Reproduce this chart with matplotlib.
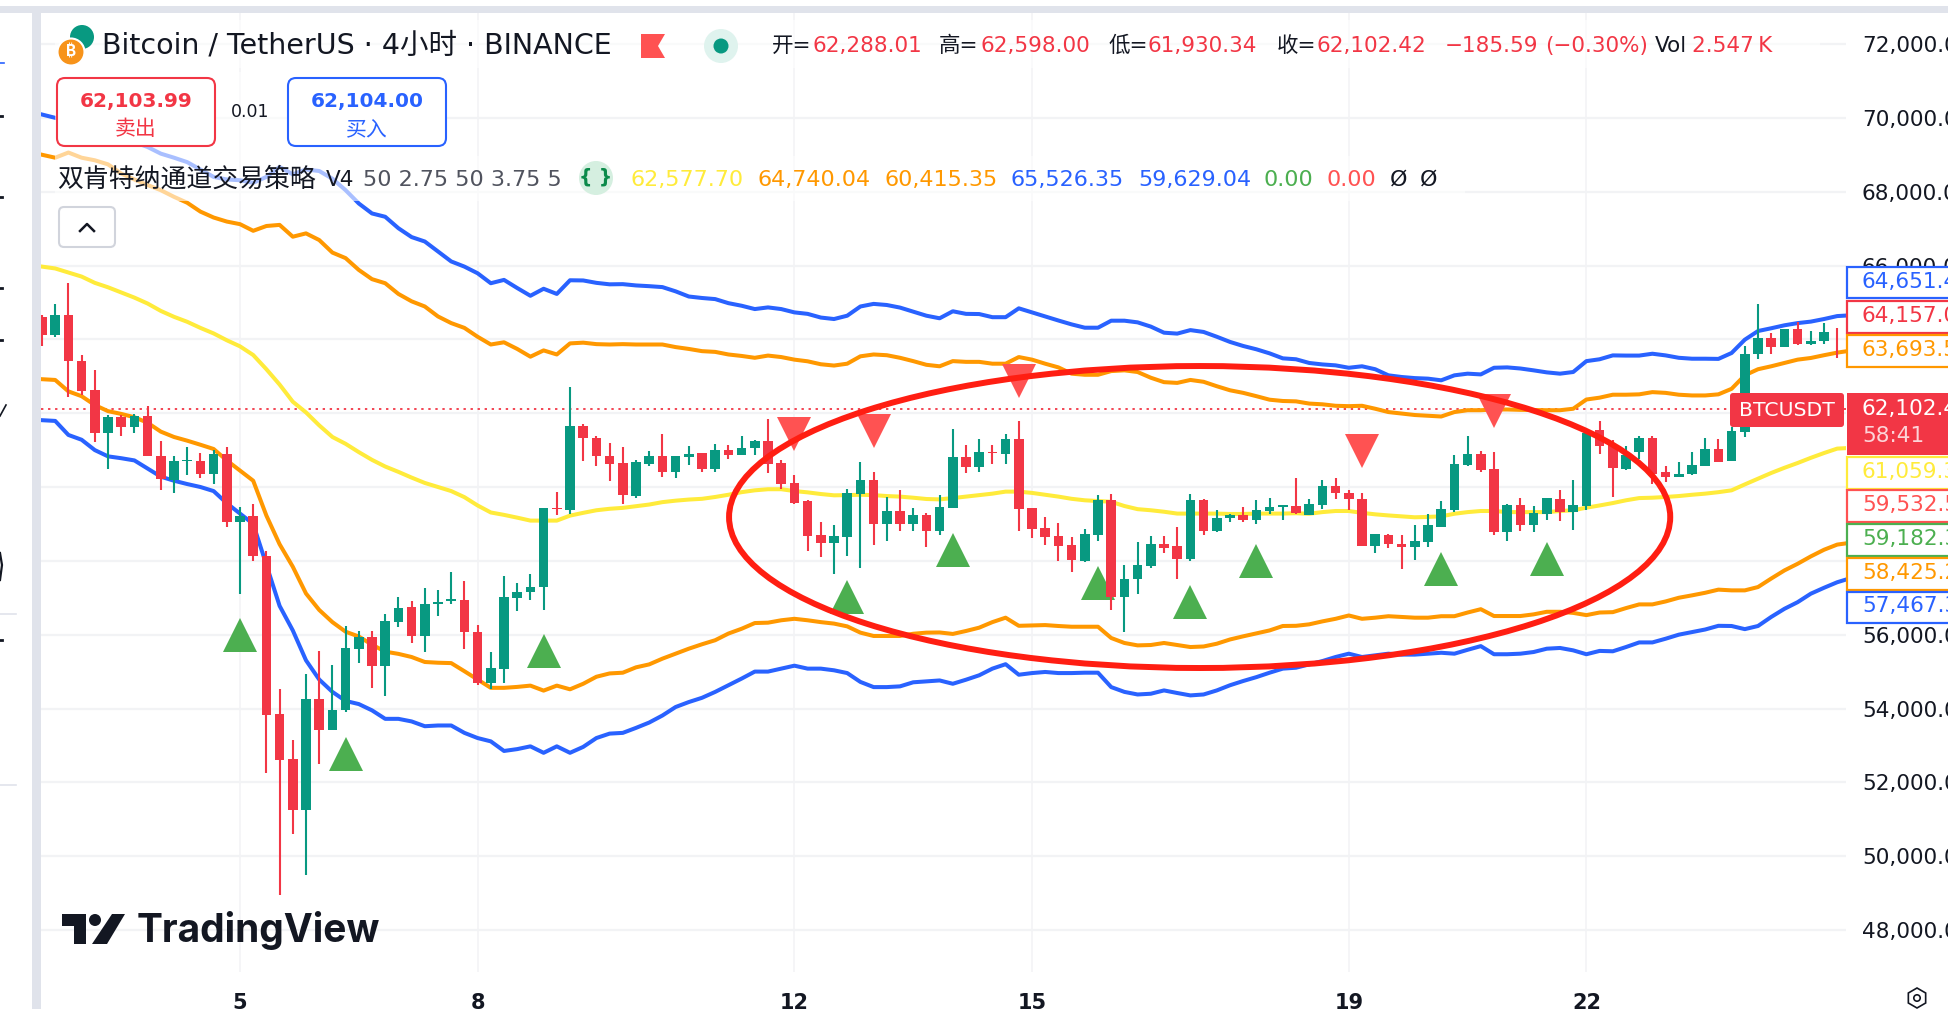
import matplotlib
matplotlib.use('Agg')
import matplotlib.pyplot as plt
import numpy as np
from matplotlib.patches import Circle, Ellipse, FancyBboxPatch, Polygon, Rectangle, RegularPolygon

plt.rcParams['font.family'] = ['DejaVu Sans', 'Noto Sans CJK SC']

W, H = 1949, 1009

# first bar in the picture sits 15 bars left of the "5" tick
FIRST_BAR = -15

opens = [64610, 64130, 64660, 63410, 62630, 61460, 61890, 61630, 61920, 60850, 60190, 60710, 60710, 60350, 60890,
         59050, 59220, 58120, 53840, 52620, 51260, 54270, 53420, 53970, 55610, 55950, 55160, 56350, 56750, 55970,
         56830, 56910, 56940, 56060, 54690, 55070, 57000, 57150, 57280, 59440, 59370, 61660, 61330, 60850, 60640, 59760,
         60630, 60830, 60410, 60810, 60910, 60490, 60990, 60880, 61060, 61240, 60640, 60110, 59610, 58690, 58480,
         58640, 59800, 60180, 59000, 59340, 59000, 59230, 58810, 59430, 60800, 60530, 60960, 60890, 61290, 59420,
         58880, 58660, 58420, 58000, 58690, 59660, 57010, 57510, 57850, 58450, 58390, 58040, 59660, 58820, 59150,
         59230, 59100, 59340, 59460, 59480,
         59250, 59520, 60020, 59850, 59680, 58400, 58710, 58460, 58370, 58500, 58930, 59390, 60590, 60900, 60500,
         58780, 59500, 58960, 59280, 59680, 59320, 59485, 61550, 61130, 60500, 60950, 61330, 60400, 60270, 60360,
         60570, 61040, 60700, 61480, 63590, 64040, 63790, 64290, 63880, 63950, 64200]
highs = [64660, 64960, 65530, 63580, 63160, 61960, 61960, 61990, 62190, 61250, 60830, 61090, 60910, 61000, 61080,
         59470, 59540, 58260, 54540, 53150, 54930, 55560, 55170, 56230, 56110, 56090, 56550, 57010, 56910, 57260,
         57210, 57700, 57450, 56250, 55530, 57590, 57390, 57640, 59440, 59860, 62720, 61720, 61370, 61190, 61090, 60720,
         60980, 61445, 60840, 61100, 60930, 61170, 61150, 61370, 61260, 61830, 60740, 60330, 59660, 59060, 58960,
         59950, 60690, 60400, 59730, 59910, 59440, 59300, 59770, 61560, 61130, 61290, 61150, 61430, 61780, 59440,
         59180, 59020, 58640, 58850, 59770, 59820, 57880, 58500, 58660, 58660, 58910, 59800, 59680, 59370, 59260,
         59450, 59640, 59690, 59500, 60240,
         59680, 60180, 60250, 59930, 59850, 58730, 58720, 58690, 58960, 59280, 59610, 60880, 61370, 60970, 60940,
         59550, 59710, 59490, 59710, 59910, 60180, 61580, 61800, 61260, 61100, 61370, 61370, 60570, 60690, 60960,
         61340, 61310, 61620, 63810, 64950, 64170, 64290, 64470, 64220, 64440, 64320]
lows = [63810, 64050, 62440, 62500, 61220, 60490, 61390, 61460, 60830, 59920, 59830, 60320, 60240, 60080, 58930,
        57110, 57990, 52250, 48955, 50590, 49500, 52510, 53420, 53910, 55230, 54560, 54340, 56210, 55780, 55540,
        56500, 56840, 55615, 54640, 54530, 54690, 56650, 56950, 56670, 59230, 59280, 60700, 60570, 60170, 59530, 59700,
        60570, 60270, 60240, 60590, 60400, 60400, 60760, 60880, 60860, 60390, 59940, 59530, 58280, 58100, 57630,
        58120, 57800, 58420, 58530, 58820, 58820, 58370, 58690, 59430, 60380, 60400, 60610, 60610, 58810, 58620,
        58420, 57990, 57700, 57960, 58540, 56660, 56070, 57100, 57810, 58210, 57510, 57990, 58690, 58770, 59050,
        59040, 58990, 59280, 59100, 59280,
        59230, 59410, 59680, 59370, 58400, 58210, 58360, 57790, 58010, 58370, 58920, 59320, 60560, 60410, 58690,
        58540, 58810, 58780, 59110, 59080, 58840, 59390, 60900, 59730, 60450, 60770, 60090, 60130, 60270, 60320,
        60560, 60680, 60700, 61350, 63470, 63610, 63790, 63860, 63860, 63880, 63500]
closes = [64130, 64660, 63400, 62590, 61460, 61890, 61630, 61920, 60840, 60220, 60700, 60740, 60350, 60890, 59045,
          59220, 58120, 53830, 52600, 51260, 54270, 53420, 53970, 55640, 55950, 55160, 56370, 56710, 55970, 56840,
          56890, 56970, 56060, 54690, 55090, 57030, 57160, 57290, 59420, 59410, 61660, 61330, 60830, 60610, 59780, 60670,
          60830, 60410, 60830, 60900, 60480, 60990, 60880, 61070, 61240, 60630, 60070, 59580, 58670, 58480, 58660,
          59830, 60180, 59000, 59340, 59000, 59230, 58810, 59450, 60800, 60530, 60940, 60910, 61290, 59400, 58860,
          58640, 58400, 58010, 58720, 59660, 57010, 57520, 57880, 58450, 58360, 58040, 59660, 58820, 59150, 59230,
          59100, 59370, 59450, 59500, 59300,
          59550, 60020, 59840, 59670, 58400, 58720, 58460, 58370, 58530, 58960, 59410, 60610, 60900, 60470, 58780,
          59500, 58960, 59300, 59690, 59320, 59500, 61460, 61100, 60510, 60860, 61330, 60360, 60270, 60360, 60590,
          61040, 60690, 61510, 63610, 64040, 63790, 64290, 63880, 63950, 64190, 64190]

upper_blue = [70090, 70000, 69930, 69860, 69750, 69610, 69480, 69340, 69210, 69030, 68920, 68800, 68600, 68400, 68330,
              68310, 68240, 68400, 68670, 68470, 68600, 68560, 68350, 68040, 67680, 67410, 67320, 67010, 66770, 66650,
              66380, 66110, 65970, 65790, 65520, 65610, 65390, 65180,
              65370, 65230, 65600, 65595, 65530, 65490, 65495, 65460, 65440, 65415, 65300, 65160, 65120, 65090, 64980,
              64910, 64820, 64865, 64820, 64730, 64690, 64590, 64550, 64640, 64890, 64960, 64930, 64860, 64750, 64640,
              64570, 64760, 64690, 64685, 64600, 64600, 64840, 64730, 64620, 64510,
              64405, 64315, 64315, 64505, 64505, 64460, 64345, 64180, 64155, 64250, 64200, 64070, 63930, 63820, 63730,
              63620, 63485, 63460,
              63360, 63320, 63295, 63230, 63270, 63190, 63025, 62980, 62950, 62935, 62890, 63025, 63070, 63050, 63230,
              63240, 63210, 63160, 63105, 63070, 63115, 63410, 63460, 63565, 63560, 63560, 63610, 63565, 63500, 63475,
              63475, 63470, 63630, 63990, 64225, 64300, 64380, 64440, 64480, 64550, 64630, 64651]
upper_orange = [69000, 68920, 69060, 68920, 68850, 68740, 68490, 68330, 68180, 68040, 67860, 67700, 67460, 67300, 67190,
                67120, 66940, 67070, 67100, 66780, 66870, 66690, 66350, 66200, 65880, 65630, 65520, 65230, 65030, 64890,
                64620, 64440, 64310, 64070, 63860, 63920, 63740, 63530,
                63700, 63590, 63890, 63910, 63870, 63860, 63870, 63860, 63860, 63860, 63790, 63740, 63680, 63660, 63590,
                63550, 63500, 63560, 63520, 63450, 63405, 63325, 63290, 63340, 63540, 63590, 63570, 63500, 63410, 63310,
                63270, 63410, 63390, 63390, 63340, 63340, 63520, 63450, 63340, 63240,
                63070, 63040, 63040, 63140, 63160, 63115, 62960, 62840, 62820, 62900, 62850, 62730, 62620, 62550, 62460,
                62365, 62330, 62320,
                62260, 62240, 62200, 62190, 62200, 62120, 62030, 61990, 61950, 61930, 61910, 62030, 62080, 62080, 62100,
                62100, 62090, 62085, 62080, 62080, 62120, 62370, 62420, 62500, 62500, 62510, 62570, 62550, 62500, 62480,
                62480, 62510, 62660, 63025, 63190, 63270, 63360, 63450, 63495, 63570, 63640, 63693]
middle_yellow = [65970, 65920, 65810, 65700, 65530, 65410, 65270, 65130, 64970, 64770, 64610, 64475, 64310, 64160, 63975,
                 63810, 63575, 63190, 62775, 62310, 62020, 61670, 61355, 61170, 60945, 60735, 60555, 60410, 60255, 60110,
                 60000, 59890, 59725, 59500, 59310, 59245, 59170, 59090, 59090, 59090, 59225, 59300, 59370, 59410, 59435,
                 59480, 59525,
                 59590, 59630, 59660, 59680, 59730, 59790, 59860, 59910, 59940, 59940, 59890, 59855, 59810, 59775, 59780,
                 59790, 59780, 59755, 59740, 59710, 59675, 59665, 59700, 59740, 59780, 59820, 59875, 59875, 59840, 59790,
                 59740, 59680, 59640, 59620, 59600, 59485, 59400, 59370, 59330, 59280, 59280, 59280, 59280, 59270, 59270,
                 59280, 59280, 59280, 59290,
                 59275, 59320, 59350, 59350, 59300, 59260, 59230, 59205, 59180, 59190, 59205, 59275, 59320, 59350, 59350,
                 59320, 59320, 59320, 59320, 59350, 59370, 59440, 59500, 59565, 59640, 59700, 59710, 59730, 59755, 59790,
                 59820, 59860, 59910, 60070, 60225, 60380, 60520, 60650, 60790, 60920, 61040, 61059]
lower_orange = [62920, 62900, 62590, 62460, 62220, 62055, 61980, 61890, 61740, 61500, 61355, 61255, 61145, 61030, 60720,
                60445, 60170, 59225, 58450, 57840, 57115, 56670, 56340, 56080, 55950, 55730, 55540, 55480, 55395, 55260,
                55240, 55230, 55010, 54785, 54560, 54560, 54585, 54620, 54485, 54620, 54520, 54670, 54860, 54950, 54970,
                55115, 55195,
                55350, 55485, 55620, 55740, 55850, 56030, 56160, 56315, 56325, 56390, 56430, 56390, 56340, 56300, 56225,
                56055, 55965, 55965, 55965, 56025, 56055, 56060, 56020, 56100, 56190, 56340, 56460, 56240, 56250, 56260,
                56235, 56215, 56215, 56215, 55910, 55775, 55710, 55720, 55775, 55720, 55665, 55680, 55755, 55870, 55955,
                56035, 56115, 56235, 56240,
                56280, 56360, 56430, 56520, 56430, 56460, 56500, 56480, 56460, 56460, 56500, 56500, 56600, 56690, 56505,
                56505, 56505, 56550, 56620, 56620, 56590, 56530, 56600, 56610, 56720, 56820, 56820, 56900, 57000, 57065,
                57135, 57220, 57200, 57200, 57290, 57520, 57740, 57920, 58120, 58300, 58440, 58490]
lower_blue = [61810, 61790, 61410, 61280, 61000, 60830, 60780, 60720, 60500, 60280, 60170, 60080, 60000, 59890, 59560,
              59280, 59000, 57890, 56780, 56115, 55305, 54785, 54450, 54205, 54120, 53950, 53720, 53720, 53650, 53520,
              53540, 53540, 53340, 53200, 53110, 52850, 52900, 52975, 52800, 52975, 52800, 52960, 53200, 53320, 53340,
              53475, 53620,
              53810, 54040, 54175, 54290, 54450, 54630, 54810, 55000, 55000, 55080, 55160, 55080, 55080, 55035, 54960,
              54720, 54580, 54580, 54600, 54710, 54735, 54760, 54670, 54780, 54900, 55080, 55200, 54915, 54960, 54990,
              54960, 54960, 54970, 54970, 54580, 54450, 54380, 54400, 54490, 54420, 54355, 54380, 54490, 54630, 54745,
              54850, 54970, 55080, 55105,
              55195, 55285, 55395, 55485, 55395, 55440, 55485, 55460, 55460, 55485, 55510, 55485, 55590, 55690, 55470,
              55470, 55485, 55530, 55620, 55640, 55575, 55470, 55560, 55550, 55665, 55790, 55790, 55890, 56000, 56070,
              56140, 56240, 56235, 56150, 56235, 56480, 56700, 56880, 57110, 57270, 57420, 57530]

# strategy signals: bar index and price of the triangle centre
buy_bars = [0, 8, 23, 46, 54, 65, 72, 77, 91, 99]
buy_prices = [55980, 52775, 55550, 57010, 58300, 57410, 56875, 57990, 57790, 58060]
sell_bars = [42, 48, 59, 85, 95]
sell_prices = [61445, 61510, 62880, 60965, 62050]

last_price = 62102.42
price_ticks = list(range(48000, 74000, 2000))
# these sit fully under the value tags on the right scale
covered_ticks = [58000, 60000, 62000, 64000]
day_bars = [0, 18, 42, 60, 84, 102]
day_labels = ['5', '8', '12', '15', '19', '22']

RED = '#f23645'
TEAL = '#089981'
BLUE = '#2962ff'
ORANGE = '#ff9800'
YELLOW = '#ffeb3b'
GREEN = '#4caf50'
SOFT_RED = '#ff5252'
INK = '#131722'
GRID = '#f2f3f5'
SIDE = '#e0e3eb'

fig = plt.figure(figsize=(W / 100, H / 100), dpi=100, facecolor='white')

# price pane, left/right/top/bottom are screen pixels of the reference
px_left, px_right, px_top, px_bottom = 41, 1846, 13, 972
ax = fig.add_axes([px_left / W, 1 - px_bottom / H, (px_right - px_left) / W, (px_bottom - px_top) / H])
ax.set_xlim((px_left - 240) / 13.2, (px_right - 240) / 13.2)
ax.set_ylim(72000 - (px_bottom - 44) / 0.036917, 72000 - (px_top - 44) / 0.036917)

for side in ax.spines.values():
    side.set_visible(False)
ax.yaxis.tick_right()
ax.set_yticks(price_ticks)
ax.set_yticklabels(['' if p in covered_ticks else f'{p:,.2f}' for p in price_ticks], fontsize=15.6, color=INK)
ax.set_xticks(day_bars)
ax.set_xticklabels(day_labels, fontsize=15, color=INK, fontweight='bold')
ax.tick_params(axis='y', length=0, pad=11.5)
ax.tick_params(axis='x', length=0, pad=15)
ax.grid(axis='y', color=GRID, lw=1.6, zorder=0)
ax.grid(axis='x', color=GRID, lw=1.1, zorder=0)
ax.set_axisbelow(True)

ax.axhline(last_price, color=RED, lw=1.3, ls=(0, (1.3, 2.6)), zorder=1)

band_x = np.arange(FIRST_BAR, FIRST_BAR + len(upper_blue))
for series, colour in [(upper_blue, BLUE), (upper_orange, ORANGE), (middle_yellow, YELLOW),
                       (lower_orange, ORANGE), (lower_blue, BLUE)]:
    ax.plot(band_x, series, color=colour, lw=2.9, solid_joinstyle='round', zorder=2)

ax.plot(buy_bars, buy_prices, ls='none', marker='^', ms=24, color=GREEN, mew=0, zorder=3)
ax.plot(sell_bars, sell_prices, ls='none', marker='v', ms=24, color=SOFT_RED, mew=0, zorder=3)

bar_x = np.arange(FIRST_BAR, FIRST_BAR + len(opens))
o = np.array(opens)
c = np.array(closes)
candle_colours = [RED if b < a else TEAL for a, b in zip(o, c)]
ax.vlines(bar_x, lows, highs, colors=candle_colours, lw=1.5, zorder=4)
ax.bar(bar_x, np.abs(c - o), bottom=np.minimum(o, c), width=0.74, color=candle_colours, lw=0, zorder=4)

# hand drawn ellipse on the screenshot
ax.add_patch(Ellipse((72.7, 59187), 71.3, 8180, fill=False, ec='#ff1e12', lw=4.3, zorder=5))

# overlay in screen pixels for the TradingView furniture
over = fig.add_axes([0, 0, 1, 1], zorder=10)
over.set_xlim(0, W)
over.set_ylim(H, 0)
over.axis('off')
over.patch.set_alpha(0)


def label(x, y, s, colour=INK, size=15.5, ha='left', **kw):
    over.text(x, y, s, color=colour, fontsize=size, ha=ha, va='center', **kw)


def box(x, y, w, h, fc='white', ec='none', lw=0, r=0, alpha=None, z=2):
    if r:
        patch = FancyBboxPatch((x, y), w, h, boxstyle=f'round,pad=0,rounding_size={r}', fc=fc, ec=ec, lw=lw,
                               alpha=alpha, zorder=z)
    else:
        patch = Rectangle((x, y), w, h, fc=fc, ec=ec, lw=lw, alpha=alpha, zorder=z)
    over.add_patch(patch)


# side strips
box(0, 6, W, 7, fc=SIDE, z=1)
box(32, 6, 9, H, fc=SIDE, z=1)
box(0, 0, 32, 6, fc='white', z=1)

# left toolbar leftovers
over.plot([0, 4], [63, 63], color=BLUE, lw=1.2, zorder=2)
over.plot([0, 16], [614, 614], color=SIDE, lw=1.2, zorder=2)
over.plot([0, 16], [785, 785], color=SIDE, lw=1.2, zorder=2)
over.plot([0, 6], [416, 405], color=INK, lw=1.2, zorder=2)
for y_mark in [116, 197, 288, 340, 640]:
    over.plot([0, 2], [y_mark, y_mark], color=INK, lw=2, zorder=2)
over.plot([0, 2, 0], [553, 565, 580], color=INK, lw=1.6, zorder=2)

# translucent legend rows
box(55, 20, 1765, 48, alpha=0.6)
box(55, 72, 390, 84, alpha=0.6)
box(55, 156, 1410, 45, alpha=0.6)

# title row
over.add_patch(Circle((82, 37), 12, fc=TEAL, ec='none', zorder=3))
over.add_patch(Circle((71, 52), 13.5, fc='#f7931a', ec='white', lw=1.5, zorder=3))
label(71, 52, '\u20bf', 'white', 11, ha='center', zorder=4, fontweight='bold', family=['Inter', 'Roboto', 'Noto Sans'])
label(102, 46, 'Bitcoin / TetherUS · 4小时 · BINANCE', INK, 20.5, zorder=4)
over.add_patch(Polygon([[641, 34], [665, 34], [658, 46], [665, 58], [641, 58]], fc=SOFT_RED, ec='none', zorder=3))
over.add_patch(Circle((721, 46), 17, fc='#dff3ee', ec='none', zorder=3))
over.add_patch(Circle((721, 46), 7.5, fc=TEAL, ec='none', zorder=4))

for x, s, colour in [(772, '开=', INK), (813, '62,288.01', RED), (939, '高=', INK), (981, '62,598.00', RED),
                     (1109, '低=', INK), (1148, '61,930.34', RED), (1277, '收=', INK), (1317, '62,102.42', RED),
                     (1445, '−185.59', RED), (1545, '(−0.30%)', RED), (1655, 'Vol', INK), (1692, '2.547\u2009K', RED)]:
    label(x, 46, s, colour, zorder=4)

# sell and buy buttons
box(57, 78, 158, 68, ec=RED, lw=1.5, r=8, z=3)
label(136, 101, '62,103.99', RED, 14.5, ha='center', fontweight='bold', zorder=4)
label(136, 129, '卖出', RED, 15, ha='center', zorder=4)
label(250, 112, '0.01', INK, 12.5, ha='center', zorder=4)
box(288, 78, 158, 68, ec=BLUE, lw=1.5, r=8, z=3)
label(367, 101, '62,104.00', BLUE, 14.5, ha='center', fontweight='bold', zorder=4)
label(367, 129, '买入', BLUE, 15, ha='center', zorder=4)

# indicator row
label(57, 180, '双肯特纳通道交易策略', INK, 18.6, zorder=4)
label(326, 180, 'V4', INK, 15.5, zorder=4)
label(363, 180, '50 2.75 50 3.75 5', '#50535e', 16, zorder=4)
over.add_patch(Circle((596, 178), 17, fc='#d5efe0', ec='none', zorder=3))
label(596, 177, '{ }', '#0b8a4a', 13.5, ha='center', fontweight='bold', zorder=4)
for x, s, colour in [(631, '62,577.70', YELLOW), (758, '64,740.04', ORANGE), (885, '60,415.35', ORANGE),
                     (1011, '65,526.35', BLUE), (1138, '59,629.04', BLUE), (1264, '0.00', GREEN),
                     (1327, '0.00', SOFT_RED), (1390, 'Ø', INK), (1420, 'Ø', INK)]:
    label(x, 180, s, colour, 16, zorder=4)

# collapse button
box(59, 207, 56, 40, ec='#d1d4dc', lw=1.5, r=5, z=3)
over.plot([80, 87, 94], [231, 224, 231], color=INK, lw=1.8, zorder=4)

# right scale value tags: top, bottom, colour, text
tags = [(267, 298, BLUE, '64,651.41'), (301, 333, RED, '64,157.00'), (335, 367, ORANGE, '63,693.54'),
        (457, 489, YELLOW, '61,059.37'), (490, 522, SOFT_RED, '59,532.58'), (524, 556, GREEN, '59,182.34'),
        (558, 590, ORANGE, '58,425.26'), (592, 623, BLUE, '57,467.35')]
for top, bottom, colour, s in tags:
    box(1847, top, 110, bottom - top, ec=colour, lw=1.6, z=3)
    label(1862, (top + bottom) / 2 - 1, s, colour, 15.6, zorder=4)

box(1847, 393, 110, 62, fc=RED, z=3)
label(1862, 409, '62,102.42', 'white', 15.6, zorder=4)
label(1862, 436, '58:41', '#fcd4d8', 15.6, zorder=4)
box(1730, 393, 114, 34, fc=RED, r=3, z=3)
label(1787, 410, 'BTCUSDT', 'white', 14.7, ha='center', zorder=4)

# settings gear
over.add_patch(RegularPolygon((1917, 998), 6, radius=10, fc='none', ec=INK, lw=1.2, zorder=3))
over.add_patch(Circle((1917, 998), 3.2, fc='none', ec=INK, lw=1.2, zorder=3))

# TradingView mark
over.add_patch(Polygon([[62, 914], [86, 914], [86, 944], [74, 944], [74, 926], [62, 926]], fc=INK, ec='none', zorder=3))
over.add_patch(Circle((95, 920), 6, fc=INK, ec='none', zorder=3))
over.add_patch(Polygon([[112, 914], [125, 914], [107, 944], [92, 944]], fc=INK, ec='none', zorder=3))
label(137, 930, 'TradingView', INK, 28, family='Inter', fontweight='bold', zorder=3)

fig.savefig('out.png', dpi=100, facecolor='white')
